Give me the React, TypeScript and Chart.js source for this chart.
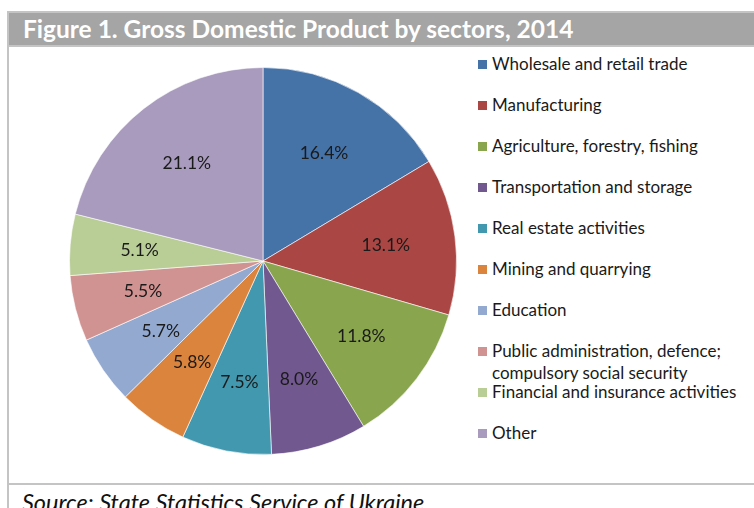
import React, { useEffect, useRef } from "react";
import { Chart, registerables } from "chart.js";

Chart.register(...registerables);

const TITLE = "Figure 1. Gross Domestic Product by sectors, 2014";
const SOURCE = "Source: State Statistics Service of Ukraine";

const sectors = [
  "Wholesale and retail trade",
  "Manufacturing",
  "Agriculture, forestry, fishing",
  "Transportation and storage",
  "Real estate activities",
  "Mining and quarrying",
  "Education",
  "Public administration, defence;\ncompulsory social security",
  "Financial and insurance activities",
  "Other",
];

const shares = [16.4, 13.1, 11.8, 8.0, 7.5, 5.8, 5.7, 5.5, 5.1, 21.1];

const colors = [
  "#4572A7",
  "#AA4643",
  "#89A54E",
  "#71588F",
  "#4198AF",
  "#DB843D",
  "#93A9CF",
  "#D19392",
  "#B9CD96",
  "#A99BBD",
];

const FONT = "Lato, 'Open Sans', sans-serif";

const labelPlugin = {
  id: "sliceLabels",
  afterDatasetsDraw(chart: any) {
    const ctx = chart.ctx;
    const meta = chart.getDatasetMeta(0);
    ctx.save();
    ctx.font = `17.5px ${FONT}`;
    ctx.fillStyle = "#1a1a1a";
    ctx.textAlign = "center";
    ctx.textBaseline = "middle";
    meta.data.forEach((arc: any, i: number) => {
      const p = arc.getProps(["x", "y", "startAngle", "endAngle", "outerRadius"], true);
      const mid = (p.startAngle + p.endAngle) / 2;
      const r = p.outerRadius * 0.64;
      const v = chart.data.datasets[0].data[i] as number;
      ctx.fillText(v.toFixed(1) + "%", p.x + Math.cos(mid) * r, p.y + Math.sin(mid) * r);
    });
    ctx.restore();
  },
};

export default function App() {
  const ref = useRef<HTMLCanvasElement | null>(null);

  useEffect(() => {
    if (!ref.current) return;
    const chart = new Chart(ref.current, {
      type: "pie",
      data: {
        labels: sectors.map((s) => s.replace("\n", " ")),
        datasets: [
          {
            data: shares,
            backgroundColor: colors,
            borderColor: "rgba(255,255,255,0.6)",
            borderWidth: 1,
          },
        ],
      },
      options: {
        responsive: false,
        animation: false,
        layout: { padding: 6 },
        plugins: {
          legend: { display: false },
          tooltip: { enabled: false },
        },
      },
      plugins: [labelPlugin],
    });
    return () => chart.destroy();
  }, []);

  return (
    <div
      style={{
        position: "absolute",
        left: 0,
        top: 0,
        width: 754,
        height: 508,
        overflow: "hidden",
        background: "#ffffff",
        fontFamily: FONT,
      }}
    >
      {/* title bar */}
      <div
        style={{
          position: "absolute",
          left: 7,
          top: 11,
          width: 747,
          height: 32,
          background: "#a5a5a5",
          borderTop: "2px solid #c4c4c4",
          borderBottom: "2px solid #c4c4c4",
          borderLeft: "2px solid #c4c4c4",
          boxSizing: "content-box",
        }}
      >
        <div
          style={{
            position: "absolute",
            left: 14,
            top: 0,
            height: 32,
            lineHeight: "32px",
            color: "#ffffff",
            fontWeight: 700,
            fontSize: 24.5,
            whiteSpace: "nowrap",
          }}
        >
          {TITLE}
        </div>
      </div>
      {/* left frame line */}
      <div style={{ position: "absolute", left: 7, top: 47, width: 2, height: 461, background: "#c4c4c4" }} />
      {/* bottom separator */}
      <div style={{ position: "absolute", left: 7, top: 483, width: 747, height: 2, background: "#c4c4c4" }} />
      {/* source */}
      <div
        style={{
          position: "absolute",
          left: 22,
          top: 489,
          fontStyle: "italic",
          fontSize: 23.5,
          lineHeight: "26px",
          color: "#111111",
          whiteSpace: "nowrap",
        }}
      >
        {SOURCE}
      </div>
      {/* pie */}
      <canvas
        ref={ref}
        width={400}
        height={400}
        style={{ position: "absolute", left: 63, top: 61, width: 400, height: 400 }}
      />
      {/* legend */}
      {sectors.map((s, i) => (
        <div
          key={i}
          style={{
            position: "absolute",
            left: 478,
            top: 64 + i * 41 - 11,
            whiteSpace: "nowrap",
            fontSize: 17,
            lineHeight: "22px",
            color: "#1a1a1a",
          }}
        >
          <span
            style={{
              position: "absolute",
              left: 0,
              top: 7,
              width: 9,
              height: 9,
              background: colors[i],
            }}
          />
          <div style={{ marginLeft: 14 }}>
            {s.split("\n").map((line, j) => (
              <div key={j}>{line}</div>
            ))}
          </div>
        </div>
      ))}
    </div>
  );
}
